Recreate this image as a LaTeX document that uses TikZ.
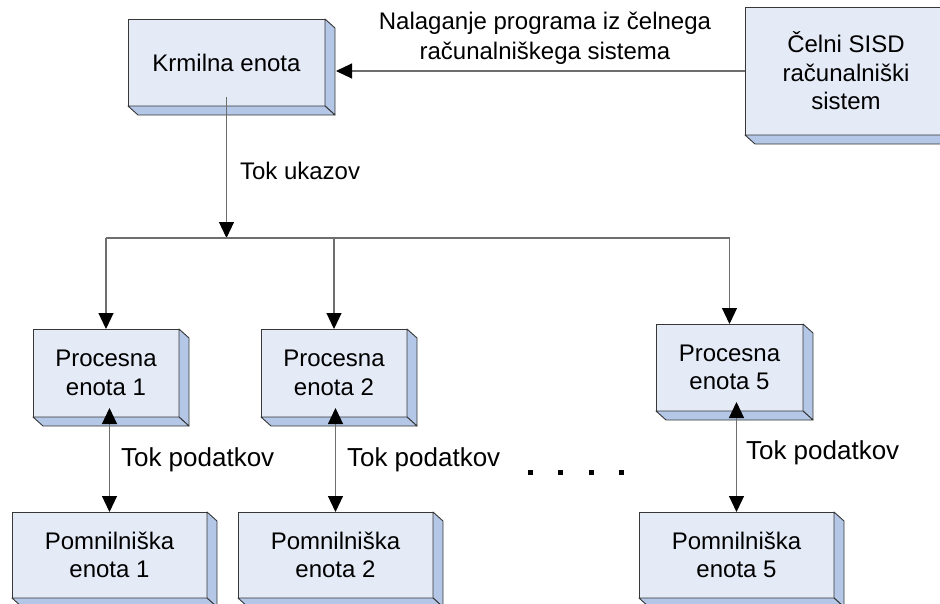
\documentclass[tikz,border=0pt]{standalone}
\usepackage{fontspec}
\setmainfont{Liberation Sans}
\usetikzlibrary{arrows.meta,calc}

\definecolor{face}{RGB}{228,234,246}
\definecolor{sideface}{RGB}{180,199,231}
\definecolor{edge}{RGB}{55,55,55}
\definecolor{wire}{RGB}{110,110,110}

\tikzset{
  tip/.tip={Triangle[length=16pt,width=15pt,color=black]},
  block/.style={draw=edge, fill=face, line width=0.9pt, inner sep=0pt, outer sep=0pt,
    align=center, font=\fontsize{24}{28.5}\selectfont},
  depth/.style={draw=edge, fill=sideface, line width=0.9pt, line join=round},
  wireline/.style={draw=wire, line width=1.1pt},
  arr/.style={wireline, -tip},
  darr/.style={wireline, tip-tip},
  lbl/.style={font=\fontsize{24}{30}\selectfont, align=center, inner sep=0pt},
  flow/.style={font=\fontsize{26}{30}\selectfont, inner sep=0pt},
  dot/.style={fill=black, minimum size=5pt, inner sep=0pt}
}

% right and bottom faces of a raised block
\newcommand\slab[1]{%
  \draw[depth] (#1.north east) -- ($(#1.north east)+(10,9)$) -- ($(#1.south east)+(10,9)$) -- (#1.south east) -- cycle;
  \draw[depth] (#1.south west) -- ($(#1.south west)+(10,9)$) -- ($(#1.south east)+(10,9)$) -- (#1.south east) -- cycle;
}

\begin{document}
\begin{tikzpicture}[x=1pt,y=-1pt]
\useasboundingbox (0,0) rectangle (940,603);
\clip (0,0) rectangle (940,603);

% blocks
\node[block, minimum width=197pt, minimum height=87pt] (k) at (226.5,62.5) {Krmilna enota};
\node[block, minimum width=202pt, minimum height=128pt] (c) at (846,71) {Čelni SISD\\računalniški\\sistem};
\node[block, minimum width=146pt, minimum height=88pt] (p1) at (106,373) {Procesna\\enota 1};
\node[block, minimum width=146pt, minimum height=88pt] (p2) at (334,373) {Procesna\\enota 2};
\node[block, minimum width=147pt, minimum height=87pt] (p5) at (729.5,367.5) {Procesna\\enota 5};
\node[block, minimum width=195pt, minimum height=86pt] (m1) at (109.5,555) {Pomnilniška\\enota 1};
\node[block, minimum width=195pt, minimum height=86pt] (m2) at (335.5,555) {Pomnilniška\\enota 2};
\node[block, minimum width=195pt, minimum height=86pt] (m5) at (736.5,555) {Pomnilniška\\enota 5};
\foreach \n in {k,c,p1,p2,p5,m1,m2,m5} {\slab{\n}}

% program loading from the front-end system; the tip rests on the side face
\draw[arr, shorten >=11pt] (c.west) -- (c.west -| k.east);
\node[lbl] (load) at (545,38) {Nalaganje programa iz čelnega\\računalniškega sistema};

% instruction stream to the processing elements
\coordinate (bus) at (k.south |- 0,238);
\draw[arr] ([yshift=9pt]k.south) -- (bus)
  node[midway, anchor=west, xshift=13pt, yshift=-3pt, lbl] (tu) {Tok ukazov};
\draw[wireline] (p1.north |- bus) -- (p5.north |- bus);
\draw[arr] (p1.north |- bus) -- (p1.north);
\draw[arr] (p2.north |- bus) -- (p2.north);
\draw[arr] (p5.north |- bus) -- (p5.north);

% data streams between processing and memory units
\draw[darr] ([yshift=9pt]p1.south -| m1.north) -- (m1.north)
  node[midway, anchor=west, xshift=11pt, flow] (t1) {Tok podatkov};
\draw[darr] ([yshift=9pt]p2.south -| m2.north) -- (m2.north)
  node[midway, anchor=west, xshift=11pt, flow] (t2) {Tok podatkov};
\draw[darr] ([yshift=9pt]p5.south -| m5.north) -- (m5.north)
  node[midway, anchor=west, xshift=9pt, yshift=4pt, flow] (t5) {Tok podatkov};

% ellipsis between units
\node[dot] (d1) at (530,472) {};
\node[dot] (d2) at (560.5,472) {};
\node[dot] (d3) at (591,472) {};
\node[dot] (d4) at (621,472) {};
\end{tikzpicture}
\end{document}
